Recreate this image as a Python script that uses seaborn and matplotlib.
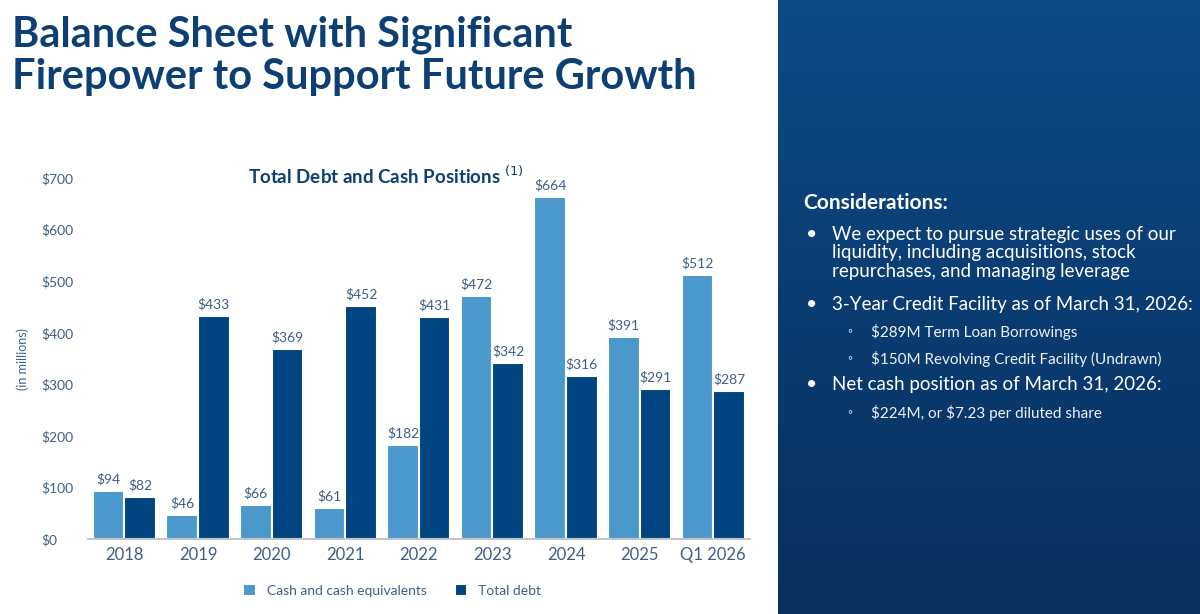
import numpy as np
import pandas as pd
import matplotlib.pyplot as plt
import seaborn as sns
from matplotlib.colors import LinearSegmentedColormap

years = ["2018", "2019", "2020", "2021", "2022", "2023", "2024", "2025", "Q1 2026"]
cash = [94, 46, 66, 61, 182, 472, 664, 391, 512]
debt = [82, 433, 369, 452, 431, 342, 316, 291, 287]
series = ["Cash and cash equivalents", "Total debt"]
yticks = [0, 100, 200, 300, 400, 500, 600, 700]

df = pd.DataFrame({
    "year": years * 2,
    "value": cash + debt,
    "series": [series[0]] * len(years) + [series[1]] * len(years),
})

sns.set_theme(style="white")
plt.rcParams['font.family'] = ['Lato', 'DejaVu Sans']

navy = "#0c3f73"
label_c = "#3d5f87"
fig = plt.figure(figsize=(12, 6.14), dpi=100)

# right panel gradient
bg = fig.add_axes([0.648, 0, 0.352, 1])
grad = np.linspace(0, 1, 200)[:, None] * np.ones((1, 50))
cm = LinearSegmentedColormap.from_list("g", ["#0d4a86", "#082f5e"])
bg.imshow(grad, cmap=cm, aspect="auto", extent=[0, 1, 0, 1])
bg.set_axis_off()

fig.text(0.010, 0.975, "Balance Sheet with Significant\nFirepower to Support Future Growth",
         fontsize=30, fontweight="bold", color=navy, va="top", linespacing=1.15)

ax = fig.add_axes([0.073, 0.122, 0.552, 0.588])
sns.barplot(data=df, x="year", y="value", hue="series",
            palette=["#4a98cc", "#004481"], saturation=1, width=0.86,
            edgecolor="white", linewidth=1.5, ax=ax, legend=True)
ax.set_ylim(0, 700)
ax.set_yticks(yticks)
ax.set_yticklabels([f"${v}" for v in yticks], fontsize=10, color=label_c)
ax.tick_params(axis="x", labelsize=12, colors=label_c, length=0, pad=6)
ax.tick_params(axis="y", length=0, pad=33)
for lab in ax.get_yticklabels():
    lab.set_horizontalalignment("left")
ax.set_xlabel("")
ax.set_ylabel("(in millions)", fontsize=9, color=label_c)
ax.yaxis.set_label_coords(-0.088, 0.5)
for s in ["top", "right", "left"]:
    ax.spines[s].set_visible(False)
ax.spines["bottom"].set_color("#bbbbbb")
for cont in ax.containers:
    ax.bar_label(cont, labels=[f"${int(v)}" for v in cont.datavalues],
                 fontsize=10, color=label_c, padding=4, clip_on=False)
ax.set_title("Total Debt and Cash Positions $^{(1)}$", fontsize=13.5, fontweight="bold",
             color=navy, pad=-4, x=0.45)
ax.legend(loc="upper center", bbox_to_anchor=(0.46, -0.09), ncol=2, frameon=False,
          fontsize=10, labelcolor=label_c, handlelength=0.9, handleheight=0.9,
          columnspacing=2)

# considerations text
fig.text(0.669, 0.660, "Considerations:", fontsize=15, fontweight="bold", color="white")
lines = [
    (0.632, 0, "We expect to pursue strategic uses of our\nliquidity, including acquisitions, stock\nrepurchases, and managing leverage"),
    (0.518, 0, "3-Year Credit Facility as of March 31, 2026:"),
    (0.472, 1, "\\$289M Term Loan Borrowings"),
    (0.428, 1, "\\$150M Revolving Credit Facility (Undrawn)"),
    (0.388, 0, "Net cash position as of March 31, 2026:"),
    (0.340, 1, "\\$224M, or \\$7.23 per diluted share"),
]
for y, lvl, t in lines:
    if lvl == 0:
        fig.text(0.672, y, "\u2022", fontsize=14, color="white", va="top")
        fig.text(0.693, y, t, fontsize=13.5, color="white", va="top", linespacing=1.1)
    else:
        fig.text(0.706, y, "\u25e6", fontsize=9, color="#dde6f0", va="top")
        fig.text(0.726, y, t, fontsize=11, color="#eef2f7", va="top")

fig.savefig("out.png", dpi=100)
